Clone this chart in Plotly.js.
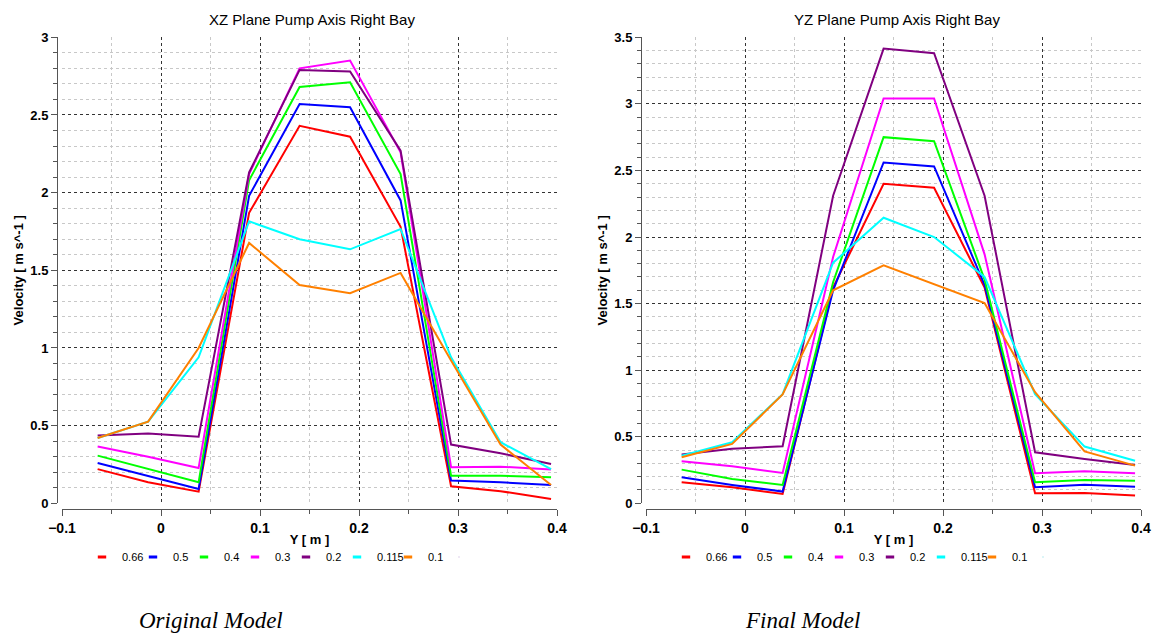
<!DOCTYPE html>
<html>
<head>
<meta charset="utf-8">
<script src="https://cdn.plot.ly/plotly-3.0.1.min.js"></script>
<style>html,body{margin:0;padding:0;background:#fff;}#chart{width:1159px;height:634px;}</style>
</head>
<body>
<div id="chart"></div>
<script>
// Positions along Y [m]
var yPos = [-0.064, -0.013, 0.038, 0.089, 0.140, 0.191, 0.242, 0.293, 0.343, 0.394];
var seriesNames = ['0.66', '0.5', '0.4', '0.3', '0.2', '0.115', '0.1'];
var seriesColors = ['#ff0000', '#0000ff', '#00ff00', '#ff00ff', '#800080', '#00ffff', '#ff8000'];

// XZ Plane Pump Axis Right Bay (Original Model)
var xz066 = [0.220, 0.135, 0.075, 1.870, 2.430, 2.360, 1.780, 0.110, 0.078, 0.028];
var xz05  = [0.260, 0.175, 0.092, 1.980, 2.570, 2.550, 1.950, 0.146, 0.135, 0.118];
var xz04  = [0.307, 0.220, 0.135, 2.080, 2.680, 2.710, 2.120, 0.178, 0.178, 0.167];
var xz03  = [0.365, 0.300, 0.227, 2.120, 2.800, 2.850, 2.260, 0.232, 0.236, 0.217];
var xz02  = [0.436, 0.450, 0.429, 2.130, 2.790, 2.780, 2.270, 0.378, 0.322, 0.253];
var xz0115 = [0.420, 0.526, 0.940, 1.815, 1.700, 1.635, 1.766, 0.940, 0.393, 0.220];
var xz01  = [0.420, 0.526, 1.000, 1.676, 1.405, 1.352, 1.483, 0.920, 0.378, 0.118];

// YZ Plane Pump Axis Right Bay (Final Model)
var yz066 = [0.158, 0.120, 0.070, 1.620, 2.400, 2.370, 1.620, 0.075, 0.078, 0.058];
var yz05  = [0.195, 0.138, 0.088, 1.600, 2.560, 2.530, 1.640, 0.120, 0.140, 0.125];
var yz04  = [0.253, 0.183, 0.138, 1.660, 2.750, 2.720, 1.680, 0.158, 0.175, 0.170];
var yz03  = [0.316, 0.278, 0.228, 1.850, 3.040, 3.040, 1.870, 0.226, 0.240, 0.226];
var yz02  = [0.366, 0.410, 0.428, 2.310, 3.415, 3.380, 2.310, 0.383, 0.333, 0.288];
var yz0115 = [0.358, 0.458, 0.820, 1.807, 2.145, 2.000, 1.700, 0.820, 0.426, 0.320];
var yz01  = [0.346, 0.446, 0.817, 1.600, 1.787, 1.644, 1.504, 0.835, 0.390, 0.283];

var xzSeries = [xz066, xz05, xz04, xz03, xz02, xz0115, xz01];
var yzSeries = [yz066, yz05, yz04, yz03, yz02, yz0115, yz01];

var W = 1159, H = 634;
function px(x) { return x / W; }
function py(y) { return 1 - y / H; }

var traces = [];
function addPanel(series, xa, ya, legendId) {
  series.forEach(function (vals, i) {
    traces.push({
      type: 'scatter', mode: 'lines', x: yPos, y: vals, xaxis: xa, yaxis: ya,
      name: seriesNames[i], line: {color: seriesColors[i], width: 2},
      showlegend: false, hoverinfo: 'x+y+name'
    });
  });
  // legend swatches (short dash like the original)
  series.forEach(function (vals, i) {
    traces.push({
      type: 'scatter', mode: 'markers', x: [null], y: [null], xaxis: xa, yaxis: ya,
      name: seriesNames[i], legend: legendId,
      marker: {symbol: 'line-ew', size: 6, line: {color: seriesColors[i], width: 3}},
      showlegend: true
    });
  });
  // empty spacer entry so the last label is not clipped
  traces.push({
    type: 'scatter', mode: 'markers', x: [null], y: [null], xaxis: xa, yaxis: ya,
    name: ' ', legend: legendId, marker: {size: 0, opacity: 0}, showlegend: true
  });
}
addPanel(xzSeries, 'x', 'y', 'legend');
addPanel(yzSeries, 'x2', 'y2', 'legend2');

var xTickFont = {family: 'Liberation Sans, Arial, sans-serif', size: 14, color: '#000', weight: 'bold'};
var yTickFont = {family: 'Liberation Sans, Arial, sans-serif', size: 13, color: '#000', weight: 'bold'};
var titleFont = {family: 'Liberation Sans, Arial, sans-serif', size: 13, color: '#000', weight: 'bold'};

function xAxis(domain) {
  return {
    domain: domain, range: [-0.1, 0.4], anchor: 'free', position: py(509),
    tickmode: 'linear', tick0: -0.1, dtick: 0.1,
    showline: true, linecolor: '#555', linewidth: 1,
    ticks: 'outside', ticklen: 6, tickcolor: '#555', tickwidth: 1,
    showgrid: true, gridcolor: '#333', griddash: 'dot', gridwidth: 1,
    zeroline: false, tickfont: xTickFont,
    minor: {dtick: 0.05, ticks: 'outside', ticklen: 4, tickcolor: '#555', showgrid: true, gridcolor: '#c8c8c8', griddash: 'dot'},
    title: {text: 'Y [ m ]', font: titleFont, standoff: 0}
  };
}
function yAxis(domain, pos, maxV) {
  return {
    domain: domain, range: [0, maxV], anchor: 'free', position: pos,
    tickmode: 'linear', tick0: 0, dtick: 0.5,
    showline: true, linecolor: '#555', linewidth: 1,
    ticks: 'outside', ticklen: 6, tickcolor: '#555', tickwidth: 1,
    showgrid: true, gridcolor: '#333', griddash: 'dot', gridwidth: 1,
    zeroline: false, tickfont: yTickFont,
    minor: {dtick: 0.1, ticks: 'outside', ticklen: 4, tickcolor: '#555', showgrid: true, gridcolor: '#c8c8c8', griddash: 'dot'},
    title: {text: 'Velocity [ m s^-1 ]', font: titleFont, standoff: 2}
  };
}

var yDom = [py(503.3), py(37.3)];
var legendBase = {orientation: 'h', yanchor: 'middle', xanchor: 'left', y: py(557),
  font: {family: 'Liberation Sans, Arial, sans-serif', size: 11, color: '#000'},
  bgcolor: 'rgba(0,0,0,0)', entrywidth: 6, itemwidth: 30, tracegroupgap: 0, itemclick: false};

var layout = {
  width: W, height: H,
  margin: {l: 0, r: 0, t: 0, b: 0},
  paper_bgcolor: '#fff', plot_bgcolor: '#fff',
  xaxis: xAxis([px(62), px(557)]),
  yaxis: yAxis(yDom, px(57), 3),
  xaxis2: xAxis([px(646), px(1141)]),
  yaxis2: yAxis(yDom, px(641), 3.5),
  legend: Object.assign({}, legendBase, {x: px(82)}),
  legend2: Object.assign({}, legendBase, {x: px(666)}),
  annotations: [
    {text: 'XZ Plane Pump Axis Right Bay', xref: 'paper', yref: 'paper', x: px(312), y: py(19), showarrow: false,
     xanchor: 'center', yanchor: 'middle', font: {family: 'Liberation Sans, Arial, sans-serif', size: 15, color: '#000'}},
    {text: 'YZ Plane Pump Axis Right Bay', xref: 'paper', yref: 'paper', x: px(897), y: py(19), showarrow: false,
     xanchor: 'center', yanchor: 'middle', font: {family: 'Liberation Sans, Arial, sans-serif', size: 15, color: '#000'}},
    {text: '<i>Original Model</i>', xref: 'paper', yref: 'paper', x: px(211), y: py(620), showarrow: false,
     xanchor: 'center', yanchor: 'middle', font: {family: 'Liberation Serif, Times New Roman, serif', size: 23, color: '#000'}},
    {text: '<i>Final Model</i>', xref: 'paper', yref: 'paper', x: px(802), y: py(620), showarrow: false,
     xanchor: 'center', yanchor: 'middle', font: {family: 'Liberation Serif, Times New Roman, serif', size: 23, color: '#000'}}
  ]
};

Plotly.newPlot('chart', traces, layout, {displayModeBar: false, staticPlot: true});
</script>
</body>
</html>
